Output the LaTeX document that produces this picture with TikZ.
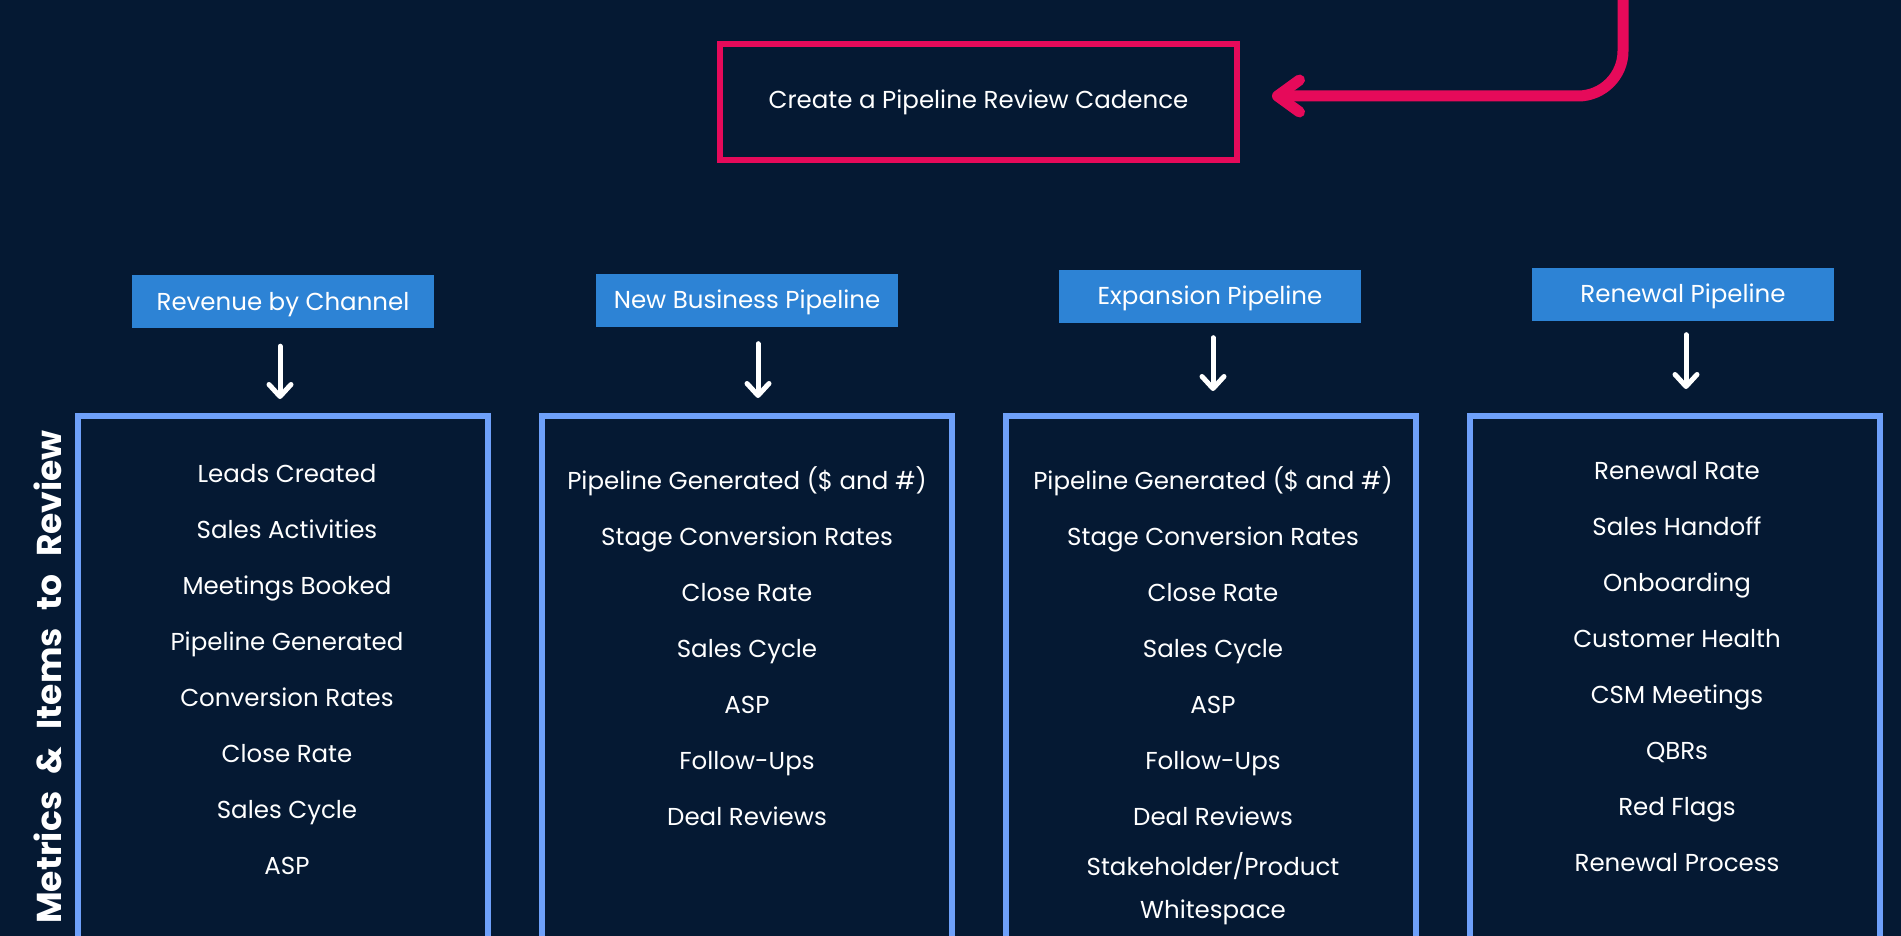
\documentclass[tikz,border=0pt]{standalone}
\usepackage{fontspec}
\setmainfont{Poppins}
\usetikzlibrary{arrows.meta, positioning, calc}
\definecolor{bgnavy}{HTML}{051933}
\definecolor{hdrblue}{HTML}{2D83D5}
\definecolor{boxblue}{HTML}{6EA0FA}
\definecolor{cadpink}{HTML}{E60A5A}

\tikzset{
  header/.style={fill=hdrblue, text=white, minimum width=302pt, minimum height=53pt,
    inner sep=0pt, font=\fontsize{24.5pt}{30pt}\selectfont, text height=17pt, text depth=0pt},
  itembox/.style={draw=boxblue, line width=6pt, minimum width=410pt, minimum height=700pt,
    anchor=north, inner sep=0pt},
  item/.style={text=white, font=\fontsize{24.5pt}{30pt}\selectfont, text height=17pt, text depth=0pt},
  colarrow/.style={white, line width=5pt, line cap=round, -{Straight Barb[length=12pt, width=22pt, round]}},
  cadarrow/.style={cadpink, line width=11pt, rounded corners=45pt, -{Straight Barb[length=22pt, width=32pt, round]}},
}

\begin{document}
\begin{tikzpicture}[x=1pt, y=-1pt]
  \useasboundingbox (0,0) rectangle (1901,936);
  \clip (0,0) rectangle (1901,936);
  \fill[bgnavy] (0,0) rectangle (1901,936);

  % Cadence box and incoming arrow
  \node[draw=cadpink, line width=6pt, minimum width=517pt, minimum height=116pt, text=white,
    font=\fontsize{24.5pt}{30pt}\selectfont] (cadence) at (978.5,102) {Create a Pipeline Review Cadence};
  \coordinate (feed) at (1623,-30);
  \draw[cadarrow, shorten >=32pt] (feed) |- ([yshift=6pt]cadence.east);

  % Column headers
  \node[header] (rev) at (283,301.5) {Revenue by Channel};
  \node[header] (newbiz) at (747,300) {New Business Pipeline};
  \node[header] (expand) at (1210,296) {Expansion Pipeline};
  \node[header] (renew) at (1683,294) {Renewal Pipeline};

  % Metric boxes (run off the bottom edge)
  \node[itembox] (revbox) at (283,413) {};
  \node[itembox] (newbizbox) at (746.5,413) {};
  \node[itembox] (expandbox) at (1210.5,413) {};
  \node[itembox] (renewbox) at (1674.5,413) {};

  % Header -> box arrows
  \draw[colarrow, shorten <=18pt, shorten >=14pt] ([xshift=-3pt]rev.south) -- ([xshift=-3pt]rev.south |- revbox.north);
  \draw[colarrow, shorten <=17pt, shorten >=15pt] ([xshift=11pt]newbiz.south) -- ([xshift=11pt]newbiz.south |- newbizbox.north);
  \draw[colarrow, shorten <=15pt, shorten >=22pt] ([xshift=3pt]expand.south) -- ([xshift=3pt]expand.south |- expandbox.north);
  \draw[colarrow, shorten <=14pt, shorten >=24pt] ([xshift=3pt]renew.south) -- ([xshift=3pt]renew.south |- renewbox.north);

  % Side label
  \node[rotate=90, text=white, font=\bfseries\fontsize{34.5pt}{40pt}\selectfont] (sidelabel) at (47.5,677)
    {Metrics\hspace{17.5pt}\&\hspace{17.5pt}Items\hspace{17.5pt}to\hspace{17.5pt}Review};

  % Items
  \foreach \t [count=\k] in {Leads Created, Sales Activities, Meetings Booked, Pipeline Generated,
      Conversion Rates, Close Rate, Sales Cycle, ASP}
    \node[item] (rev-\k) at (287,418+56*\k) {\t};
  \foreach \t [count=\k] in {{Pipeline Generated (\$ and \#)}, Stage Conversion Rates, Close Rate,
      Sales Cycle, ASP, Follow-Ups, Deal Reviews}
    \node[item] (newbiz-\k) at (747,425+56*\k) {\t};
  \foreach \t [count=\k] in {{Pipeline Generated (\$ and \#)}, Stage Conversion Rates, Close Rate,
      Sales Cycle, ASP, Follow-Ups, Deal Reviews}
    \node[item] (expand-\k) at (1213,425+56*\k) {\t};
  \node[text=white, align=center, font=\fontsize{24.5pt}{43pt}\selectfont] (expand-8) at (1213,889)
    {Stakeholder/Product\\Whitespace};
  \foreach \t [count=\k] in {Renewal Rate, Sales Handoff, Onboarding, Customer Health,
      CSM Meetings, QBRs, Red Flags, Renewal Process}
    \node[item] (renew-\k) at (1677,415+56*\k) {\t};
\end{tikzpicture}
\end{document}
